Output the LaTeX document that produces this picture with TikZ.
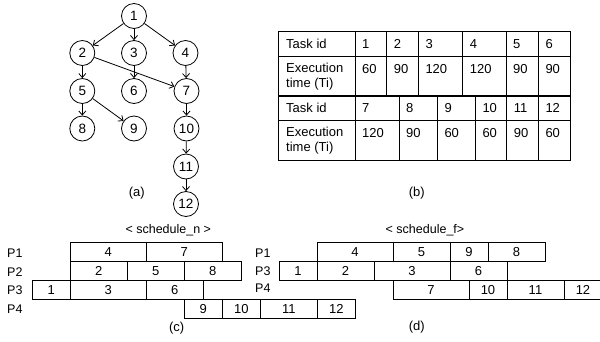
\documentclass[tikz,border=0pt]{standalone}
\usepackage{fontspec}
\setmainfont{Liberation Sans}
\usetikzlibrary{arrows.meta}
\tikzset{
  gnode/.style={circle,draw,line width=0.8pt,minimum size=25pt,inner sep=0pt,font=\fontsize{13.5}{15}\selectfont},
  garrow/.style={line width=0.8pt,-{Straight Barb[length=4pt,width=7pt]}},
  grid/.style={line width=0.8pt},
  thickgrid/.style={line width=1.8pt},
  cell/.style={anchor=west,inner sep=0pt,font=\fontsize{13}{15}\selectfont,align=left},
  gbox/.style={draw,line width=0.8pt},
  txt/.style={inner sep=0pt,font=\fontsize{13}{14}\selectfont},
  plabel/.style={inner sep=0pt,font=\fontsize{12.5}{14}\selectfont},
  capt/.style={inner sep=0pt,font=\fontsize{13}{15}\selectfont},
  stitle/.style={inner sep=0pt,font=\fontsize{12.5}{14}\selectfont}
}
\newcommand{\taskbox}[6]{%
  \draw[gbox] ({#2+#3*0.6333},{#5}) rectangle ({#2+#4*0.6333},{#5+19});
  \node[txt] (#1) at ({#2+(#3+#4)/2*0.6333},{#5+9.5}) {#6};}
\begin{document}
\begin{tikzpicture}[x=1pt,y=-1pt]
\useasboundingbox (0,0) rectangle (600,341);
\clip (0,0) rectangle (600,341);
% ---------- (a) graph
\node[gnode] (n1) at (134,16) {1};
\node[gnode] (n2) at (82.3,53) {2};
\node[gnode] (n3) at (134,53) {3};
\node[gnode] (n4) at (185.5,53) {4};
\node[gnode] (n5) at (82.3,91) {5};
\node[gnode] (n6) at (134,91) {6};
\node[gnode] (n7) at (186.5,91) {7};
\node[gnode] (n8) at (82.3,128.5) {8};
\node[gnode] (n9) at (134,128.5) {9};
\node[gnode] (n10) at (186.5,128.5) {10};
\node[gnode] (n11) at (186,166.5) {11};
\node[gnode] (n12) at (186,204) {12};
\draw[garrow] (n1) -- (n2);
\draw[garrow] (n1) -- (n3);
\draw[garrow] (n1) -- (n4);
\draw[garrow] (n2) -- (n5);
\draw[garrow] (n2) -- (n7);
\draw[garrow] (n3) -- (n6);
\draw[garrow] (n4) -- (n7);
\draw[garrow] (n5) -- (n8);
\draw[garrow] (n5) -- (n9);
\draw[garrow] (n7) -- (n10);
\draw[garrow] (n10) -- (n11);
\draw[garrow] (n11) -- (n12);
\node[capt] (capa) at (136.7,193.3) {(a)};
% ---------- (b) table
\draw[grid] (278.3,31.7) rectangle (570,160.7);
\draw[grid] (278.3,56) -- (570,56);
\draw[grid] (278.3,120) -- (570,120);
\draw[thickgrid] (278.3,96) -- (570,96);
\foreach \x in {355,386.7,418.3,462.7,506,538.3} \draw[grid] (\x,31.7) -- (\x,96);
\foreach \x in {355,399,437.3,475.3,506.7,538.3} \draw[grid] (\x,96) -- (\x,160.7);
\node[cell] (t1a) at (286,43.8) {Task id};
\node[cell] (t1b) at (286,76.7) {Execution\\time (Ti)};
\node[cell] (t2a) at (286,108.3) {Task id};
\node[cell] (t2b) at (286,140.8) {Execution\\time (Ti)};
\foreach \x/\id/\t [count=\i] in {355/1/60,386.7/2/90,418.3/3/120,462.7/4/120,506/5/90,538.3/6/90}{
  \node[cell] (ida\i) at (\x+7,43.8) {\id};
  \node[cell] (tia\i) at (\x+7,69.3) {\t};
}
\foreach \x/\id/\t [count=\i] in {355/7/120,399/8/90,437.3/9/60,475.3/10/60,506.7/11/90,538.3/12/60}{
  \node[cell] (idb\i) at (\x+7,108.3) {\id};
  \node[cell] (tib\i) at (\x+7,133.3) {\t};
}
\node[capt] (capb) at (416.7,193.3) {(b)};
% ---------- (c) schedule_n
\node[stitle] (sn) at (168.3,230.7) {< schedule\_n >};
\node[plabel,anchor=west] (c1) at (7,252.7) {P1};
\node[plabel,anchor=west] (c2) at (7,271.7) {P2};
\node[plabel,anchor=west] (c3) at (7,290) {P3};
\node[plabel,anchor=west] (c4) at (7,309) {P4};
\taskbox{ca4}{32.3}{60}{180}{242.3}{4}
\taskbox{ca7}{32.3}{180}{300}{242.3}{7}
\taskbox{ca2}{32.3}{60}{150}{261.7}{2}
\taskbox{ca5}{32.3}{150}{240}{261.7}{5}
\taskbox{ca8}{32.3}{240}{330}{261.7}{8}
\taskbox{ca1}{32.3}{0}{60}{280.7}{1}
\taskbox{ca3}{32.3}{60}{180}{280.7}{3}
\taskbox{ca6}{32.3}{180}{270}{280.7}{6}
\taskbox{ca9}{32.3}{240}{300}{299.3}{9}
\taskbox{ca10}{32.3}{300}{360}{299.3}{10}
\taskbox{ca11}{32.3}{360}{450}{299.3}{11}
\taskbox{ca12}{32.3}{450}{510}{299.3}{12}
\node[capt] (capc) at (176.7,328.3) {(c)};
% ---------- (d) schedule_f
\node[stitle] (sf) at (425,230.7) {< schedule\_f>};
\node[plabel,anchor=west] (d1) at (255,252.7) {P1};
\node[plabel,anchor=west] (d3) at (255,271.2) {P3};
\node[plabel,anchor=west] (d4) at (255,288.3) {P4};
\taskbox{da4}{279}{60}{180}{242.3}{4}
\taskbox{da5}{279}{180}{270}{242.3}{5}
\taskbox{da9}{279}{270}{330}{242.3}{9}
\taskbox{da8}{279}{330}{420}{242.3}{8}
\taskbox{da1}{279}{0}{60}{261.7}{1}
\taskbox{da2}{279}{60}{150}{261.7}{2}
\taskbox{da3}{279}{150}{270}{261.7}{3}
\taskbox{da6}{279}{270}{360}{261.7}{6}
\taskbox{da7}{279}{180}{300}{280.7}{7}
\taskbox{da10}{279}{300}{360}{280.7}{10}
\taskbox{da11}{279}{360}{450}{280.7}{11}
\taskbox{da12}{279}{450}{510}{280.7}{12}
\node[capt] (capd) at (416.7,326.7) {(d)};
\end{tikzpicture}
\end{document}
